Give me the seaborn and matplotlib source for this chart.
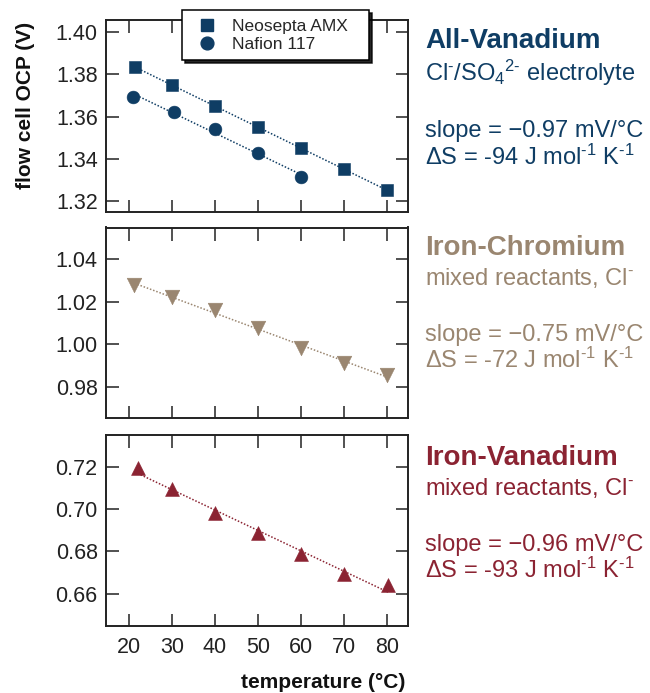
import numpy as np
import pandas as pd
import seaborn as sns
import matplotlib
matplotlib.use("Agg")
import matplotlib.pyplot as plt
from matplotlib.lines import Line2D

sns.set_style("ticks")
plt.rcParams['font.family'] = ['Liberation Sans', 'DejaVu Sans']
plt.rcParams['mathtext.fontset'] = 'custom'
plt.rcParams['mathtext.rm'] = 'Liberation Sans'
plt.rcParams['mathtext.it'] = 'Liberation Sans:italic'
plt.rcParams['mathtext.bf'] = 'Liberation Sans:bold'

# ---------------- data ----------------
temps_amx = [21.4, 30, 40, 50, 60, 70, 80]
ocp_amx = [1.3835, 1.3748, 1.3649, 1.3550, 1.3449, 1.3351, 1.3252]
temps_naf = [21.0, 30.4, 40, 50, 60]
ocp_naf = [1.3693, 1.3622, 1.3540, 1.3425, 1.3314]
temps_fecr = [21.2, 30, 40, 50, 60, 70, 80]
ocp_fecr = [1.0280, 1.0224, 1.0161, 1.0075, 0.9984, 0.9913, 0.9855]
temps_fev = [22.0, 30, 40, 50, 60, 70, 80.3]
ocp_fev = [0.7192, 0.7095, 0.6980, 0.6885, 0.6787, 0.6691, 0.6641]

xticks = [20, 30, 40, 50, 60, 70, 80]
yticks1 = [1.32, 1.34, 1.36, 1.38, 1.40]
yticks2 = [0.98, 1.00, 1.02, 1.04]
yticks3 = [0.66, 0.68, 0.70, 0.72]

navy = "#0F3D64"
tan = "#9A8670"
maroon = "#8B2332"
spine_c = "#222222"

W, H = 650, 693
fig = plt.figure(figsize=(W / 100, H / 100), dpi=100)

def ax_at(left, top, right, bottom):
    return fig.add_axes([left / W, 1 - bottom / H, (right - left) / W, (bottom - top) / H])

ax1 = ax_at(106, 20, 408, 212)
ax2 = ax_at(106, 227.5, 408, 418)
ax3 = ax_at(106, 435, 408, 625.7)

def fit_and_points(ax, x, y, color, marker, size):
    df = pd.DataFrame({"t": x, "v": y})
    sns.regplot(data=df, x="t", y="v", ax=ax, scatter=False, ci=None,
                line_kws=dict(color=color, lw=1.1, ls=(0, (1, 1.2))))
    sns.scatterplot(data=df, x="t", y="v", ax=ax, color=color, marker=marker,
                    s=size ** 2, edgecolor=color, linewidth=0.4, zorder=3,
                    legend=False)

fit_and_points(ax1, temps_amx, ocp_amx, navy, "s", 8.2)
fit_and_points(ax1, temps_naf, ocp_naf, navy, "o", 9.2)
fit_and_points(ax2, temps_fecr, ocp_fecr, tan, "v", 10.5)
fit_and_points(ax3, temps_fev, ocp_fev, maroon, "^", 10.0)

ylims = [(1.3148, 1.4057), (0.9653, 1.0550), (0.6449, 0.7350)]
yts = [yticks1, yticks2, yticks3]
for i, ax in enumerate([ax1, ax2, ax3]):
    ax.set_xlim(14.65, 84.9)
    ax.set_ylim(*ylims[i])
    ax.set_xticks(xticks)
    ax.set_yticks(yts[i])
    ax.set_yticklabels([f"{v:.2f}" for v in yts[i]])
    ax.set_xlabel("")
    ax.set_ylabel("")
    for sp in ax.spines.values():
        sp.set_visible(True)
        sp.set_linewidth(1.4)
        sp.set_color(spine_c)
    ax.tick_params(direction="in", length=9, width=1.1, color=spine_c,
                   top=True, right=True, labelsize=15.5, labelcolor="#222222")
    ax.tick_params(axis="y", pad=6)
    ax.tick_params(axis="x", pad=8)
    if i < 2:
        ax.set_xticklabels([])
    else:
        ax.set_xticklabels([str(t) for t in xticks])

# legend
handles = [
    Line2D([], [], ls="none", marker="s", color=navy, markersize=8.2),
    Line2D([], [], ls="none", marker="o", color=navy, markersize=9.2),
]
leg = ax1.legend(handles, ["Neosepta AMX", "Nafion 117"], loc="upper left",
                 bbox_to_anchor=((182 - 106) / 302, 0.5, 187 / 302, 0.5 + 10 / 192),
                 mode="expand",
                 fontsize=12.5, frameon=True, fancybox=False,
                 shadow={"color": "black", "alpha": 0.85},
                 borderpad=0.5, labelspacing=0.15, handletextpad=0.5,
                 handlelength=1.87, borderaxespad=0)
leg.get_frame().set_edgecolor("black")
leg.get_frame().set_linewidth(1.1)
leg.set_zorder(10)

# axis labels
fig.text(26 / W, 1 - 105 / H, "flow cell OCP (V)", rotation=90, ha="center",
         va="center", fontsize=15, fontweight="bold", color="#111111")
fig.text(405 / W, 1 - 682 / H, "temperature (°C)", ha="right", va="center",
         fontsize=15, fontweight="bold", color="#111111")

# annotations
def block(color, title, sub, slope, ds, ys):
    x = 425 / W
    fig.text(x, 1 - ys[0] / H, title, color=color, fontsize=20,
             fontweight="bold", va="center", ha="left")
    fig.text(x, 1 - ys[1] / H, sub, color=color, fontsize=17, va="center", ha="left")
    fig.text(x, 1 - ys[2] / H, slope, color=color, fontsize=17, va="center", ha="left")
    fig.text(x, 1 - ys[3] / H, ds, color=color, fontsize=17, va="center", ha="left")

block(navy, "All-Vanadium",
      r"Cl$^{\text{-}}$/SO$_{\mathregular{4}}$$^{\text{2-}}$ electrolyte",
      "slope = \u22120.97 mV/°C",
      r"ΔS = -94 J mol$^{\text{-1}}$ K$^{\text{-1}}$",
      [41.5, 73, 131.5, 157])
block(tan, "Iron-Chromium",
      r"mixed reactants, Cl$^{\text{-}}$",
      "slope = \u22120.75 mV/°C",
      r"ΔS = -72 J mol$^{\text{-1}}$ K$^{\text{-1}}$",
      [248, 278, 335, 360])
block(maroon, "Iron-Vanadium",
      r"mixed reactants, Cl$^{\text{-}}$",
      "slope = \u22120.96 mV/°C",
      r"ΔS = -93 J mol$^{\text{-1}}$ K$^{\text{-1}}$",
      [458, 488, 545, 570])

fig.savefig("out.png", dpi=100)
